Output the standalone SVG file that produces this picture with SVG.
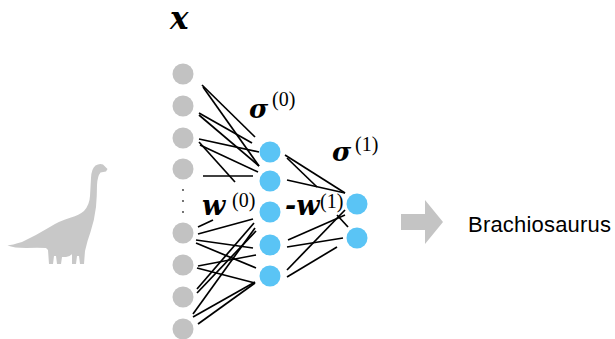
<svg xmlns="http://www.w3.org/2000/svg" width="615" height="339" viewBox="0 0 615 339">
  <style>
    .in { fill: #c2c2c2; }
    .hid { fill: #5ac4f5; }
    .edge { stroke: #000; stroke-width: 1.7; fill: none; stroke-linecap: butt; }
    .math { font-family: "DejaVu Serif", "Liberation Serif", serif; font-style: italic; font-weight: bold; fill: #000; }
    .sup { font-family: "Liberation Serif", "DejaVu Serif", serif; fill: #000; }
    .label { font-family: "Liberation Sans", Arial, sans-serif; fill: #000; }
  </style>

  <!-- input silhouette -->
  <g id="dino">
    <path fill="#c8c8c8" d="M107.5,169 L103,164.5 Q99.5,163 95.5,165.5 Q91.5,168.5 91,178 L90,196 Q89.5,205 84,211 Q79,215 71,217.5 Q59,221 49,227.5 Q35,236 22,242 Q12,245 7.5,245.5 Q14,248 26,248 Q38,247.5 46,248 L48,250 L49,264 L53,264 L54,256 L56,256 L57,264 L61,264 L62,257 L66,257 Q70,256.5 72,254 L72,264 L76,264 L77,256 L79,256 L80,264 L84,264 L85,251 Q87.5,240 90.5,232 Q94.5,220 96,207 Q97,195 97,185 Q97.5,176 100.5,172.5 L106,171.5 Z"/>
  </g>

  <!-- connectors -->
  <g id="connectors" class="edge">
    <!-- input to hidden layer, upper block -->
    <line x1="202" y1="85" x2="255" y2="137"/>
    <line x1="203" y1="87" x2="259" y2="166"/>
    <line x1="199" y1="113" x2="252" y2="143"/>
    <line x1="199" y1="115" x2="259" y2="166"/>
    <line x1="199" y1="139" x2="259" y2="152"/>
    <line x1="199" y1="142" x2="235" y2="182"/>
    <line x1="200" y1="145" x2="258" y2="172"/>
    <line x1="203" y1="176" x2="253" y2="176"/>
    <!-- input to hidden layer, lower block -->
    <line x1="198" y1="227" x2="213" y2="220"/>
    <line x1="198" y1="234" x2="253" y2="219"/>
    <line x1="196" y1="240" x2="253" y2="248"/>
    <line x1="196" y1="243" x2="256" y2="268"/>
    <line x1="198" y1="266" x2="256" y2="255"/>
    <line x1="197" y1="268" x2="255" y2="283"/>
    <line x1="197" y1="289" x2="254" y2="223"/>
    <line x1="197" y1="293" x2="256" y2="231"/>
    <line x1="193" y1="314" x2="255" y2="228"/>
    <line x1="193" y1="317" x2="255" y2="282"/>
    <line x1="198" y1="324" x2="255" y2="283"/>
    <!-- hidden to output -->
    <line x1="285" y1="155" x2="345" y2="193"/>
    <line x1="287" y1="158" x2="317" y2="187"/>
    <line x1="287" y1="180" x2="345" y2="193"/>
    <line x1="288" y1="240" x2="345" y2="215"/>
    <line x1="287" y1="247" x2="343" y2="238"/>
    <line x1="287" y1="270" x2="345" y2="210"/>
    <line x1="287" y1="277" x2="337" y2="247"/>
    <line x1="337" y1="215" x2="348" y2="227"/>
  </g>

  <!-- input layer -->
  <g id="input-layer">
    <circle class="in" cx="183" cy="74" r="10.5"/>
    <circle class="in" cx="183" cy="106" r="10.5"/>
    <circle class="in" cx="183" cy="138" r="10.5"/>
    <circle class="in" cx="183" cy="169" r="10.5"/>
    <circle cx="183" cy="190" r="0.9" fill="#333"/>
    <circle cx="183" cy="201" r="0.9" fill="#333"/>
    <circle cx="183" cy="212" r="0.9" fill="#333"/>
    <circle class="in" cx="183" cy="233" r="10.5"/>
    <circle class="in" cx="183" cy="265" r="10.5"/>
    <circle class="in" cx="183" cy="297" r="10.5"/>
    <circle class="in" cx="183" cy="329" r="10.5"/>
  </g>

  <!-- hidden layer -->
  <g id="hidden-layer">
    <circle class="hid" cx="270" cy="152" r="10.5"/>
    <circle class="hid" cx="270" cy="181" r="10.5"/>
    <circle class="hid" cx="270" cy="212" r="10.5"/>
    <circle class="hid" cx="270" cy="245" r="10.5"/>
    <circle class="hid" cx="270" cy="276" r="10.5"/>
  </g>

  <!-- output layer -->
  <g id="output-layer">
    <circle class="hid" cx="357" cy="204" r="10.5"/>
    <circle class="hid" cx="357" cy="238" r="10.5"/>
  </g>

  <!-- symbols -->
  <g id="labels">
    <text class="math" x="170" y="29" font-size="31">x</text>
    <text class="math" x="249" y="118" font-size="26">σ</text>
    <text class="sup" x="272" y="106" font-size="20">(0)</text>
    <text class="math" x="332" y="161" font-size="26">σ</text>
    <text class="sup" x="355" y="151" font-size="20">(1)</text>
    <text class="math" x="202" y="215" font-size="27">w</text>
    <text class="sup" x="232" y="207" font-size="20">(0)</text>
    <text class="math" x="285" y="215" font-size="27">-w</text>
    <text class="sup" x="320" y="208" font-size="20">(1)</text>
  </g>

  <!-- result -->
  <g id="arrow">
    <polygon fill="#c4c4c4" points="401,214 425,214 425,200 443,222 425,244 425,230 401,230"/>
  </g>
  <g id="result">
    <text class="label" x="468" y="232" font-size="22" textLength="143" lengthAdjust="spacing">Brachiosaurus</text>
  </g>
</svg>
